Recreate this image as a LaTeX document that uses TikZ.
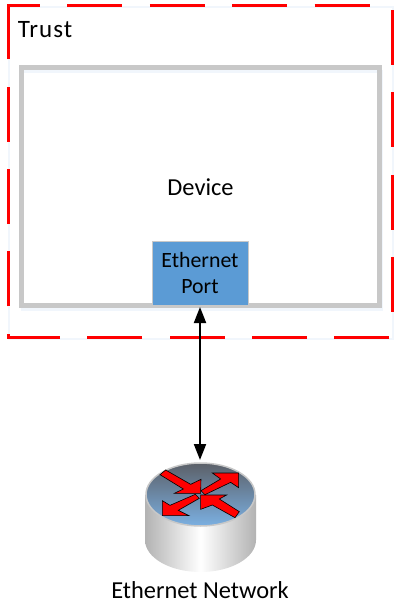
\documentclass[tikz,border=0pt]{standalone}
\usepackage{fontspec}
\setmainfont{Carlito}
\newfontfamily\spaced[LetterSpace=4]{Carlito}
\usetikzlibrary{arrows.meta,shapes.geometric}
\definecolor{trustred}{HTML}{FF0000}
\definecolor{wallgray}{HTML}{C8C8C8}
\definecolor{portblue}{HTML}{5B9BD5}
\definecolor{glow}{HTML}{F1F6FC}
\definecolor{domedark}{HTML}{5C6068}
\definecolor{domelight}{HTML}{7BB0E2}
\tikzset{
  lbl/.style={font=\fontsize{24.4}{28}\selectfont,text=black,inner sep=0pt},
  routerarrow/.style={fill=trustred,draw=black,line width=0.6pt,line join=miter},
  linkline/.style={black,line width=2pt,{Triangle[length=16pt,width=12pt]}-{Triangle[length=16pt,width=12pt]}}
}
\begin{document}
\begin{tikzpicture}[x=1pt,y=-1pt]
\useasboundingbox (0,0) rectangle (400,605);
% faint halos
\draw[glow,line width=2pt] (9,29) -- (9,7) -- (393,7) -- (393,339) -- (9,339) -- cycle;
\draw[glow,line width=3pt] (22,71) rectangle (381,309);
% trust boundary
\draw[trustred,line width=3pt,dash pattern=on 55pt off 27.4pt] (8,28) -- (8,5) -- (392,5) -- (392,337) -- (8,337) -- cycle;
% device
\node[draw=wallgray,line width=5pt,minimum width=358pt,minimum height=237.5pt,inner sep=0pt] (device) at (200.5,186.25) {};
\node[lbl] at (200.5,187) {Device};
\node[lbl,font=\fontsize{25}{28}\spaced] at (45,29.5) {Trust};
% port
\node[draw=wallgray,line width=1pt,fill=portblue,minimum width=96pt,minimum height=64pt,inner sep=0pt,anchor=center,align=center,font=\fontsize{21.8}{26}\selectfont] (port) at (200,273) {Ethernet\\Port};
% router
\shade[left color=gray!60,right color=gray!60,middle color=white,draw=none]
  (145,495) -- (256,495) -- (256,540) arc[start angle=360,end angle=180,x radius=55.5pt,y radius=32pt] -- cycle;
\node[ellipse,minimum width=109pt,minimum height=63pt,inner sep=0pt,draw=wallgray,line width=1.5pt,top color=domedark,bottom color=domelight] (router) at (200.5,494.5) {};
\begin{scope}[shift={(120,450)},x=0.3333pt,y=-0.3333pt]
\draw[routerarrow] (120,74) -- (137,60) -- (212,103) -- (243,88) -- (242,130) -- (163,130) -- (190,117) -- cycle;
\draw[routerarrow] (243,122) -- (302,87) -- (277,69) -- (356,69) -- (356,113) -- (332,97) -- (255,134) -- cycle;
\draw[routerarrow] (238,145) -- (175,181) -- (207,197) -- (127,197) -- (127,152) -- (150,166) -- (226,133) -- cycle;
\draw[routerarrow] (358,185) -- (345,203) -- (277,165) -- (242,178) -- (242,135) -- (320,135) -- (298,147) -- cycle;
\end{scope}
\node[lbl] at (200,590) {Ethernet Network};
% link
\coordinate (routertop) at (200,460);
\draw[linkline] (port.south) ++(0,1.5) coordinate (porttip) (porttip) -- (routertop);
\end{tikzpicture}
\end{document}
